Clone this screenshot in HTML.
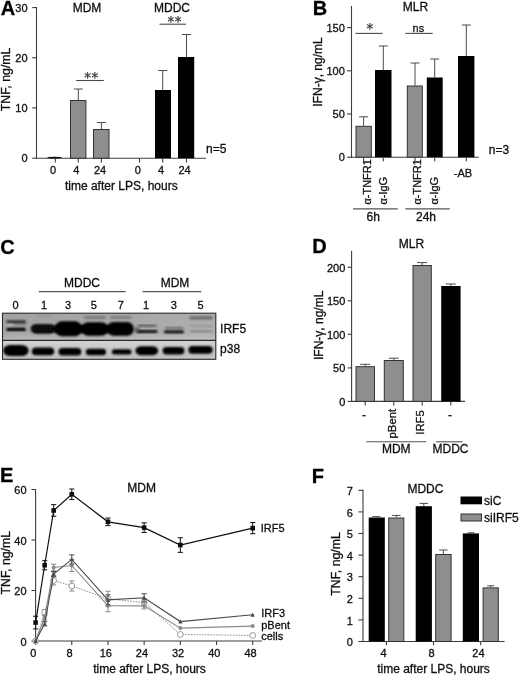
<!DOCTYPE html>
<html lang="en"><head><meta charset="utf-8"><title>Figure</title>
<style>
html,body{margin:0;padding:0;background:#fff;}
body{width:520px;height:676px;overflow:hidden;}
svg{display:block;font-family:"Liberation Sans",sans-serif;}
text{stroke:#111;stroke-width:0.3px;}
</style></head><body>
<svg width="520" height="676" viewBox="0 0 520 676">
<defs><filter id="soft" x="0" y="0" width="520" height="676" filterUnits="userSpaceOnUse"><feGaussianBlur stdDeviation="0.4"/></filter></defs>
<rect width="520" height="676" fill="#fff"/>
<g filter="url(#soft)">
<text x="8.00" y="15.00" font-size="20" text-anchor="middle" font-weight="bold" fill="#000" >A</text>
<line x1="36.50" y1="7.00" x2="36.50" y2="158.70" stroke="#3c3c3c" stroke-width="1.1" />
<line x1="36.00" y1="158.20" x2="206.00" y2="158.20" stroke="#3c3c3c" stroke-width="1.1" />
<line x1="32.20" y1="7.60" x2="36.50" y2="7.60" stroke="#3c3c3c" stroke-width="1.1" />
<text x="27.60" y="11.80" font-size="11" text-anchor="end" font-weight="normal" fill="#111" >30</text>
<line x1="32.20" y1="57.70" x2="36.50" y2="57.70" stroke="#3c3c3c" stroke-width="1.1" />
<text x="27.60" y="61.90" font-size="11" text-anchor="end" font-weight="normal" fill="#111" >20</text>
<line x1="32.20" y1="107.90" x2="36.50" y2="107.90" stroke="#3c3c3c" stroke-width="1.1" />
<text x="27.60" y="112.10" font-size="11" text-anchor="end" font-weight="normal" fill="#111" >10</text>
<line x1="32.20" y1="158.20" x2="36.50" y2="158.20" stroke="#3c3c3c" stroke-width="1.1" />
<text x="27.60" y="162.40" font-size="11" text-anchor="end" font-weight="normal" fill="#111" >0</text>
<text x="9.80" y="79.40" font-size="12.3" text-anchor="middle" font-weight="normal" fill="#111" transform="rotate(-90 9.80 79.40)" >TNF, ng/mL</text>
<text x="87.00" y="12.30" font-size="12" text-anchor="middle" font-weight="normal" fill="#111" >MDM</text>
<text x="172.00" y="12.30" font-size="12" text-anchor="middle" font-weight="normal" fill="#111" >MDDC</text>
<ellipse cx="54.6" cy="157.6" rx="7.6" ry="0.9" fill="#111"/>
<rect x="70.50" y="100.50" width="15.40" height="57.70" fill="#8e8e8e" stroke="#333" stroke-width="1"/>
<line x1="78.30" y1="89.00" x2="78.30" y2="100.00" stroke="#4a4a4a" stroke-width="1.0" />
<line x1="73.80" y1="89.00" x2="82.80" y2="89.00" stroke="#4a4a4a" stroke-width="1.0" />
<rect x="93.50" y="129.50" width="15.50" height="28.70" fill="#8e8e8e" stroke="#333" stroke-width="1"/>
<line x1="101.40" y1="122.50" x2="101.40" y2="129.00" stroke="#4a4a4a" stroke-width="1.0" />
<line x1="96.90" y1="122.50" x2="105.90" y2="122.50" stroke="#4a4a4a" stroke-width="1.0" />
<rect x="155.00" y="90.00" width="16.00" height="68.20" fill="#000"/>
<line x1="162.70" y1="70.50" x2="162.70" y2="90.00" stroke="#4a4a4a" stroke-width="1.0" />
<line x1="158.20" y1="70.50" x2="167.20" y2="70.50" stroke="#4a4a4a" stroke-width="1.0" />
<rect x="178.00" y="57.00" width="16.20" height="101.20" fill="#000"/>
<line x1="186.50" y1="34.50" x2="186.50" y2="57.00" stroke="#4a4a4a" stroke-width="1.0" />
<line x1="182.00" y1="34.50" x2="191.00" y2="34.50" stroke="#4a4a4a" stroke-width="1.0" />
<line x1="76.20" y1="80.50" x2="103.80" y2="80.50" stroke="#4a4a4a" stroke-width="1.1" />
<text x="91.40" y="82.00" font-size="13.5" text-anchor="middle" font-weight="normal" fill="#333" font-family="DejaVu Sans, sans-serif" letter-spacing="0.4" style="stroke:#333;stroke-width:0.25px">**</text>
<line x1="159.50" y1="24.20" x2="186.00" y2="24.20" stroke="#4a4a4a" stroke-width="1.1" />
<text x="174.70" y="25.50" font-size="13.5" text-anchor="middle" font-weight="normal" fill="#333" font-family="DejaVu Sans, sans-serif" letter-spacing="0.4" style="stroke:#333;stroke-width:0.25px">**</text>
<line x1="55.30" y1="158.20" x2="55.30" y2="162.50" stroke="#3c3c3c" stroke-width="1.1" />
<text x="53.00" y="174.00" font-size="11" text-anchor="middle" font-weight="normal" fill="#111" >0</text>
<line x1="78.30" y1="158.20" x2="78.30" y2="162.50" stroke="#3c3c3c" stroke-width="1.1" />
<text x="76.30" y="174.00" font-size="11" text-anchor="middle" font-weight="normal" fill="#111" >4</text>
<line x1="101.40" y1="158.20" x2="101.40" y2="162.50" stroke="#3c3c3c" stroke-width="1.1" />
<text x="100.00" y="174.00" font-size="11" text-anchor="middle" font-weight="normal" fill="#111" >24</text>
<line x1="139.50" y1="158.20" x2="139.50" y2="162.50" stroke="#3c3c3c" stroke-width="1.1" />
<text x="137.80" y="174.00" font-size="11" text-anchor="middle" font-weight="normal" fill="#111" >0</text>
<line x1="162.70" y1="158.20" x2="162.70" y2="162.50" stroke="#3c3c3c" stroke-width="1.1" />
<text x="161.00" y="174.00" font-size="11" text-anchor="middle" font-weight="normal" fill="#111" >4</text>
<line x1="186.50" y1="158.20" x2="186.50" y2="162.50" stroke="#3c3c3c" stroke-width="1.1" />
<text x="184.60" y="174.00" font-size="11" text-anchor="middle" font-weight="normal" fill="#111" >24</text>
<text x="121.30" y="190.00" font-size="12" text-anchor="middle" font-weight="normal" fill="#111" >time after LPS, hours</text>
<text x="206.00" y="152.50" font-size="12" text-anchor="start" font-weight="normal" fill="#111" >n=5</text>
<text x="319.90" y="15.00" font-size="20" text-anchor="middle" font-weight="bold" fill="#000" >B</text>
<line x1="351.50" y1="6.00" x2="351.50" y2="157.70" stroke="#3c3c3c" stroke-width="1.1" />
<line x1="351.00" y1="157.20" x2="478.70" y2="157.20" stroke="#3c3c3c" stroke-width="1.1" />
<line x1="347.00" y1="27.60" x2="351.50" y2="27.60" stroke="#3c3c3c" stroke-width="1.1" />
<text x="344.80" y="31.80" font-size="11" text-anchor="end" font-weight="normal" fill="#111" >150</text>
<line x1="347.00" y1="70.80" x2="351.50" y2="70.80" stroke="#3c3c3c" stroke-width="1.1" />
<text x="344.80" y="75.00" font-size="11" text-anchor="end" font-weight="normal" fill="#111" >100</text>
<line x1="347.00" y1="114.00" x2="351.50" y2="114.00" stroke="#3c3c3c" stroke-width="1.1" />
<text x="344.80" y="118.20" font-size="11" text-anchor="end" font-weight="normal" fill="#111" >50</text>
<line x1="347.00" y1="157.20" x2="351.50" y2="157.20" stroke="#3c3c3c" stroke-width="1.1" />
<text x="344.80" y="161.40" font-size="11" text-anchor="end" font-weight="normal" fill="#111" >0</text>
<text x="322.00" y="72.00" font-size="12" text-anchor="middle" font-weight="normal" fill="#111" transform="rotate(-90 322.00 72.00)" >IFN-γ, ng/mL</text>
<text x="415.50" y="10.60" font-size="12" text-anchor="middle" font-weight="normal" fill="#111" >MLR</text>
<rect x="356.00" y="126.30" width="15.30" height="30.90" fill="#8e8e8e" stroke="#333" stroke-width="1"/>
<line x1="363.60" y1="116.80" x2="363.60" y2="125.80" stroke="#4a4a4a" stroke-width="1.0" />
<line x1="359.10" y1="116.80" x2="368.10" y2="116.80" stroke="#4a4a4a" stroke-width="1.0" />
<rect x="375.00" y="70.00" width="16.50" height="87.20" fill="#000"/>
<line x1="383.30" y1="46.00" x2="383.30" y2="70.00" stroke="#4a4a4a" stroke-width="1.0" />
<line x1="378.80" y1="46.00" x2="387.80" y2="46.00" stroke="#4a4a4a" stroke-width="1.0" />
<rect x="407.30" y="86.00" width="15.00" height="71.20" fill="#8e8e8e" stroke="#333" stroke-width="1"/>
<line x1="415.00" y1="63.00" x2="415.00" y2="85.50" stroke="#4a4a4a" stroke-width="1.0" />
<line x1="410.50" y1="63.00" x2="419.50" y2="63.00" stroke="#4a4a4a" stroke-width="1.0" />
<rect x="426.80" y="77.50" width="15.90" height="79.70" fill="#000"/>
<line x1="434.70" y1="59.00" x2="434.70" y2="77.50" stroke="#4a4a4a" stroke-width="1.0" />
<line x1="430.20" y1="59.00" x2="439.20" y2="59.00" stroke="#4a4a4a" stroke-width="1.0" />
<rect x="458.00" y="56.00" width="16.40" height="101.20" fill="#000"/>
<line x1="466.30" y1="25.00" x2="466.30" y2="56.00" stroke="#4a4a4a" stroke-width="1.0" />
<line x1="461.80" y1="25.00" x2="470.80" y2="25.00" stroke="#4a4a4a" stroke-width="1.0" />
<line x1="355.50" y1="33.40" x2="382.50" y2="33.40" stroke="#4a4a4a" stroke-width="1.1" />
<text x="370.20" y="32.60" font-size="13.5" text-anchor="middle" font-weight="normal" fill="#333" font-family="DejaVu Sans, sans-serif" letter-spacing="0.4" style="stroke:#333;stroke-width:0.25px">*</text>
<line x1="405.40" y1="33.40" x2="432.70" y2="33.40" stroke="#4a4a4a" stroke-width="1.1" />
<text x="418.40" y="31.60" font-size="11" text-anchor="middle" font-weight="normal" fill="#222" >ns</text>
<line x1="363.60" y1="157.20" x2="363.60" y2="161.30" stroke="#3c3c3c" stroke-width="1.1" />
<line x1="383.30" y1="157.20" x2="383.30" y2="161.30" stroke="#3c3c3c" stroke-width="1.1" />
<line x1="415.00" y1="157.20" x2="415.00" y2="161.30" stroke="#3c3c3c" stroke-width="1.1" />
<line x1="434.70" y1="157.20" x2="434.70" y2="161.30" stroke="#3c3c3c" stroke-width="1.1" />
<line x1="466.30" y1="157.20" x2="466.30" y2="161.30" stroke="#3c3c3c" stroke-width="1.1" />
<text x="371.30" y="204.60" font-size="11" text-anchor="start" font-weight="normal" fill="#111" transform="rotate(-90 371.30 204.60)" >α-TNFR1</text>
<text x="387.30" y="204.60" font-size="11" text-anchor="start" font-weight="normal" fill="#111" transform="rotate(-90 387.30 204.60)" >α-IgG</text>
<text x="421.30" y="204.60" font-size="11" text-anchor="start" font-weight="normal" fill="#111" transform="rotate(-90 421.30 204.60)" >α-TNFR1</text>
<text x="438.30" y="204.60" font-size="11" text-anchor="start" font-weight="normal" fill="#111" transform="rotate(-90 438.30 204.60)" >α-IgG</text>
<text x="463.00" y="177.00" font-size="11" text-anchor="middle" font-weight="normal" fill="#111" >-AB</text>
<line x1="353.00" y1="208.80" x2="397.70" y2="208.80" stroke="#555" stroke-width="1.2" />
<line x1="405.40" y1="208.80" x2="449.80" y2="208.80" stroke="#555" stroke-width="1.2" />
<text x="373.20" y="221.30" font-size="12" text-anchor="middle" font-weight="normal" fill="#111" >6h</text>
<text x="426.00" y="221.30" font-size="12" text-anchor="middle" font-weight="normal" fill="#111" >24h</text>
<text x="488.80" y="154.20" font-size="12" text-anchor="start" font-weight="normal" fill="#111" >n=3</text>
<text x="7.50" y="253.90" font-size="20" text-anchor="middle" font-weight="bold" fill="#000" >C</text>
<text x="82.00" y="286.80" font-size="12" text-anchor="middle" font-weight="normal" fill="#111" >MDDC</text>
<text x="175.00" y="286.80" font-size="12" text-anchor="middle" font-weight="normal" fill="#111" >MDM</text>
<line x1="38.80" y1="291.60" x2="125.60" y2="291.60" stroke="#555" stroke-width="1.1" />
<line x1="142.50" y1="291.60" x2="201.30" y2="291.60" stroke="#555" stroke-width="1.1" />
<text x="15.50" y="308.50" font-size="11" text-anchor="middle" font-weight="normal" fill="#111" >0</text>
<text x="44.00" y="308.50" font-size="11" text-anchor="middle" font-weight="normal" fill="#111" >1</text>
<text x="68.00" y="308.50" font-size="11" text-anchor="middle" font-weight="normal" fill="#111" >3</text>
<text x="93.80" y="308.50" font-size="11" text-anchor="middle" font-weight="normal" fill="#111" >5</text>
<text x="120.80" y="308.50" font-size="11" text-anchor="middle" font-weight="normal" fill="#111" >7</text>
<text x="146.00" y="308.50" font-size="11" text-anchor="middle" font-weight="normal" fill="#111" >1</text>
<text x="173.80" y="308.50" font-size="11" text-anchor="middle" font-weight="normal" fill="#111" >3</text>
<text x="200.60" y="308.50" font-size="11" text-anchor="middle" font-weight="normal" fill="#111" >5</text>
<text x="220.10" y="333.30" font-size="12" text-anchor="start" font-weight="normal" fill="#111" >IRF5</text>
<text x="220.10" y="352.80" font-size="12" text-anchor="start" font-weight="normal" fill="#111" >p38</text>
<g id="blot"><defs>
<filter id="bl" x="-10%" y="-30%" width="120%" height="160%"><feGaussianBlur stdDeviation="1.05"/></filter>
<filter id="bl2" x="-10%" y="-30%" width="120%" height="160%"><feGaussianBlur stdDeviation="1.3"/></filter>
<linearGradient id="bgU" x1="0" y1="0" x2="1" y2="0"><stop offset="0" stop-color="#a2a2a2"/><stop offset="0.6" stop-color="#a8a8a8"/><stop offset="1" stop-color="#aeaeae"/></linearGradient>
<linearGradient id="bgUv" x1="0" y1="0" x2="0" y2="1"><stop offset="0" stop-color="#fff" stop-opacity="0"/><stop offset="0.7" stop-color="#fff" stop-opacity="0.02"/><stop offset="1" stop-color="#fff" stop-opacity="0.22"/></linearGradient>
<linearGradient id="bgL" x1="0" y1="0" x2="0" y2="1"><stop offset="0" stop-color="#d4d4d4"/><stop offset="0.5" stop-color="#c6c6c6"/><stop offset="1" stop-color="#c0c0c0"/></linearGradient>
<clipPath id="cU"><rect x="2.5" y="313.2" width="213.3" height="27.100000000000023"/></clipPath>
<clipPath id="cL"><rect x="2.5" y="340.3" width="213.3" height="19.0"/></clipPath>
</defs>
<rect x="2.5" y="313.2" width="213.3" height="27.100000000000023" fill="url(#bgU)"/>
<rect x="2.5" y="313.2" width="213.3" height="27.100000000000023" fill="url(#bgUv)"/>
<rect x="2.5" y="340.3" width="213.3" height="19.0" fill="url(#bgL)"/>
<g clip-path="url(#cU)">
<rect x="6.2" y="320.5" width="19.8" height="2.5" rx="1.2" ry="1.2" fill="#101010" opacity="0.92" filter="url(#bl)"/>
<rect x="13.0" y="323.4" width="13.0" height="1.8" rx="0.9" ry="0.9" fill="#222" opacity="0.4" filter="url(#bl)"/>
<rect x="6.2" y="327.8" width="19.8" height="3.2" rx="1.6" ry="1.6" fill="#050505" opacity="1" filter="url(#bl)"/>
<ellipse cx="10.5" cy="325.2" rx="3" ry="1.4" fill="#c8c8c8" opacity="0.4" filter="url(#bl)"/>
<rect x="31.5" y="324.2" width="23.5" height="9.2" rx="4.5" ry="4.6" fill="#050505" opacity="1" filter="url(#bl)"/>
<rect x="30.5" y="325.5" width="25.5" height="6.7" rx="3.3" ry="3.3" fill="#111" opacity="0.6" filter="url(#bl2)"/>
<rect x="55.0" y="321.3" width="27.0" height="15.0" rx="7.0" ry="7.5" fill="#050505" opacity="1" filter="url(#bl)"/>
<rect x="81.5" y="322.3" width="26.5" height="13.5" rx="6.5" ry="6.8" fill="#050505" opacity="1" filter="url(#bl)"/>
<rect x="84.0" y="316.0" width="22.0" height="2.8" rx="1.4" ry="1.4" fill="#666" opacity="0.75" filter="url(#bl)"/>
<rect x="107.0" y="322.0" width="26.8" height="13.8" rx="6.5" ry="6.9" fill="#050505" opacity="1" filter="url(#bl)"/>
<rect x="110.0" y="316.0" width="21.5" height="2.8" rx="1.4" ry="1.4" fill="#666" opacity="0.7" filter="url(#bl)"/>
<rect x="53.0" y="325.0" width="59.0" height="8.0" rx="4.0" ry="4.0" fill="#000" opacity="1" filter="url(#bl)"/>
<rect x="36.0" y="315.3" width="16.0" height="1.5" rx="0.8" ry="0.8" fill="#777" opacity="0.4" filter="url(#bl)"/>
<rect x="138.0" y="324.7" width="18.5" height="1.8" rx="0.9" ry="0.9" fill="#1c1c1c" opacity="0.7" filter="url(#bl)"/>
<rect x="137.0" y="330.0" width="20.5" height="3.0" rx="1.5" ry="1.5" fill="#080808" opacity="1" filter="url(#bl)"/>
<rect x="134.0" y="327.0" width="6.0" height="6.0" rx="3.0" ry="3.0" fill="#333" opacity="0.5" filter="url(#bl2)"/>
<rect x="165.0" y="327.3" width="18.5" height="1.7" rx="0.8" ry="0.8" fill="#2a2a2a" opacity="0.6" filter="url(#bl)"/>
<rect x="164.0" y="330.5" width="20.0" height="2.8" rx="1.4" ry="1.4" fill="#060606" opacity="1" filter="url(#bl)"/>
<rect x="189.5" y="316.2" width="23.3" height="3.4" rx="1.7" ry="1.7" fill="#5c5c5c" opacity="0.85" filter="url(#bl)"/>
<rect x="190.0" y="325.3" width="22.5" height="1.5" rx="0.8" ry="0.8" fill="#666" opacity="0.4" filter="url(#bl)"/>
<rect x="190.0" y="330.5" width="22.5" height="1.7" rx="0.8" ry="0.8" fill="#555" opacity="0.55" filter="url(#bl)"/>
</g>
<g clip-path="url(#cL)">
<rect x="3.2" y="345.0" width="25.4" height="11.0" rx="7.0" ry="5.5" fill="#050505" opacity="1" filter="url(#bl)"/>
<rect x="31.8" y="347.4" width="22.4" height="7.9" rx="4.0" ry="4.0" fill="#050505" opacity="1" filter="url(#bl)"/>
<rect x="58.5" y="348.0" width="22.8" height="7.6" rx="3.8" ry="3.8" fill="#050505" opacity="1" filter="url(#bl)"/>
<rect x="85.8" y="348.8" width="20.2" height="6.4" rx="3.2" ry="3.2" fill="#050505" opacity="1" filter="url(#bl)"/>
<rect x="111.8" y="349.2" width="19.8" height="5.3" rx="2.7" ry="2.7" fill="#050505" opacity="1" filter="url(#bl)"/>
<rect x="135.4" y="346.3" width="22.8" height="9.0" rx="6.0" ry="4.5" fill="#050505" opacity="1" filter="url(#bl)"/>
<rect x="162.6" y="347.1" width="21.8" height="7.4" rx="3.7" ry="3.7" fill="#050505" opacity="1" filter="url(#bl)"/>
<rect x="188.4" y="346.1" width="24.2" height="7.6" rx="3.8" ry="3.8" fill="#050505" opacity="1" filter="url(#bl)"/>
</g>
<rect x="2.5" y="313.2" width="213.3" height="46.10000000000002" fill="none" stroke="#2a2a2a" stroke-width="1.1"/>
<line x1="2.5" y1="340.3" x2="215.8" y2="340.3" stroke="#2a2a2a" stroke-width="1.2"/></g>
<text x="319.40" y="253.40" font-size="20" text-anchor="middle" font-weight="bold" fill="#000" >D</text>
<line x1="351.60" y1="250.80" x2="351.60" y2="401.90" stroke="#3c3c3c" stroke-width="1.1" />
<line x1="351.10" y1="401.40" x2="465.00" y2="401.40" stroke="#3c3c3c" stroke-width="1.1" />
<line x1="347.70" y1="267.30" x2="351.60" y2="267.30" stroke="#3c3c3c" stroke-width="1.1" />
<text x="345.30" y="271.50" font-size="11" text-anchor="end" font-weight="normal" fill="#111" >200</text>
<line x1="347.70" y1="300.80" x2="351.60" y2="300.80" stroke="#3c3c3c" stroke-width="1.1" />
<text x="345.30" y="305.00" font-size="11" text-anchor="end" font-weight="normal" fill="#111" >150</text>
<line x1="347.70" y1="334.30" x2="351.60" y2="334.30" stroke="#3c3c3c" stroke-width="1.1" />
<text x="345.30" y="338.50" font-size="11" text-anchor="end" font-weight="normal" fill="#111" >100</text>
<line x1="347.70" y1="367.90" x2="351.60" y2="367.90" stroke="#3c3c3c" stroke-width="1.1" />
<text x="345.30" y="372.10" font-size="11" text-anchor="end" font-weight="normal" fill="#111" >50</text>
<line x1="347.70" y1="401.40" x2="351.60" y2="401.40" stroke="#3c3c3c" stroke-width="1.1" />
<text x="345.30" y="405.60" font-size="11" text-anchor="end" font-weight="normal" fill="#111" >0</text>
<text x="323.00" y="325.30" font-size="12" text-anchor="middle" font-weight="normal" fill="#111" transform="rotate(-90 323.00 325.30)" >IFN-γ, ng/mL</text>
<text x="411.50" y="247.60" font-size="12" text-anchor="middle" font-weight="normal" fill="#111" >MLR</text>
<rect x="356.00" y="366.70" width="18.50" height="34.70" fill="#8e8e8e" stroke="#333" stroke-width="1"/>
<line x1="365.20" y1="364.30" x2="365.20" y2="366.20" stroke="#4a4a4a" stroke-width="1.0" />
<line x1="360.20" y1="364.30" x2="370.20" y2="364.30" stroke="#4a4a4a" stroke-width="1.0" />
<rect x="384.30" y="360.50" width="19.00" height="40.90" fill="#8e8e8e" stroke="#333" stroke-width="1"/>
<line x1="393.80" y1="358.20" x2="393.80" y2="360.00" stroke="#4a4a4a" stroke-width="1.0" />
<line x1="388.80" y1="358.20" x2="398.80" y2="358.20" stroke="#4a4a4a" stroke-width="1.0" />
<rect x="413.00" y="265.50" width="18.30" height="135.90" fill="#8e8e8e" stroke="#333" stroke-width="1"/>
<line x1="422.20" y1="262.60" x2="422.20" y2="265.00" stroke="#4a4a4a" stroke-width="1.0" />
<line x1="417.20" y1="262.60" x2="427.20" y2="262.60" stroke="#4a4a4a" stroke-width="1.0" />
<rect x="441.20" y="286.00" width="19.40" height="115.40" fill="#000"/>
<line x1="450.80" y1="284.00" x2="450.80" y2="286.00" stroke="#4a4a4a" stroke-width="1.0" />
<line x1="445.80" y1="284.00" x2="455.80" y2="284.00" stroke="#4a4a4a" stroke-width="1.0" />
<line x1="365.20" y1="401.40" x2="365.20" y2="405.50" stroke="#3c3c3c" stroke-width="1.1" />
<line x1="393.80" y1="401.40" x2="393.80" y2="405.50" stroke="#3c3c3c" stroke-width="1.1" />
<line x1="422.20" y1="401.40" x2="422.20" y2="405.50" stroke="#3c3c3c" stroke-width="1.1" />
<line x1="450.80" y1="401.40" x2="450.80" y2="405.50" stroke="#3c3c3c" stroke-width="1.1" />
<text x="364.00" y="419.00" font-size="12" text-anchor="middle" font-weight="normal" fill="#111" >-</text>
<text x="450.00" y="419.00" font-size="12" text-anchor="middle" font-weight="normal" fill="#111" >-</text>
<text x="396.40" y="408.90" font-size="11.3" text-anchor="end" font-weight="normal" fill="#111" transform="rotate(-90 396.40 408.90)" >pBent</text>
<text x="424.50" y="410.20" font-size="11.3" text-anchor="end" font-weight="normal" fill="#111" transform="rotate(-90 424.50 410.20)" >IRF5</text>
<line x1="366.20" y1="441.80" x2="426.20" y2="441.80" stroke="#555" stroke-width="1.1" />
<line x1="436.20" y1="441.80" x2="462.50" y2="441.80" stroke="#555" stroke-width="1.1" />
<text x="396.30" y="453.40" font-size="12" text-anchor="middle" font-weight="normal" fill="#111" >MDM</text>
<text x="450.50" y="453.40" font-size="12" text-anchor="middle" font-weight="normal" fill="#111" >MDDC</text>
<text x="6.60" y="482.00" font-size="20" text-anchor="middle" font-weight="bold" fill="#000" >E</text>
<line x1="35.60" y1="489.00" x2="35.60" y2="641.50" stroke="#3c3c3c" stroke-width="1.1" />
<line x1="35.10" y1="641.00" x2="262.00" y2="641.00" stroke="#3c3c3c" stroke-width="1.1" />
<line x1="31.50" y1="641.00" x2="35.60" y2="641.00" stroke="#3c3c3c" stroke-width="1.1" />
<text x="26.60" y="645.50" font-size="11" text-anchor="end" font-weight="normal" fill="#111" >0</text>
<line x1="31.50" y1="590.50" x2="35.60" y2="590.50" stroke="#3c3c3c" stroke-width="1.1" />
<text x="26.60" y="595.00" font-size="11" text-anchor="end" font-weight="normal" fill="#111" >20</text>
<line x1="31.50" y1="540.00" x2="35.60" y2="540.00" stroke="#3c3c3c" stroke-width="1.1" />
<text x="26.60" y="544.50" font-size="11" text-anchor="end" font-weight="normal" fill="#111" >40</text>
<line x1="31.50" y1="489.50" x2="35.60" y2="489.50" stroke="#3c3c3c" stroke-width="1.1" />
<text x="26.60" y="494.00" font-size="11" text-anchor="end" font-weight="normal" fill="#111" >60</text>
<line x1="35.60" y1="641.00" x2="35.60" y2="645.00" stroke="#3c3c3c" stroke-width="1.1" />
<text x="33.40" y="657.20" font-size="11" text-anchor="middle" font-weight="normal" fill="#111" >0</text>
<line x1="71.78" y1="641.00" x2="71.78" y2="645.00" stroke="#3c3c3c" stroke-width="1.1" />
<text x="69.58" y="657.20" font-size="11" text-anchor="middle" font-weight="normal" fill="#111" >8</text>
<line x1="107.97" y1="641.00" x2="107.97" y2="645.00" stroke="#3c3c3c" stroke-width="1.1" />
<text x="105.77" y="657.20" font-size="11" text-anchor="middle" font-weight="normal" fill="#111" >16</text>
<line x1="144.15" y1="641.00" x2="144.15" y2="645.00" stroke="#3c3c3c" stroke-width="1.1" />
<text x="141.95" y="657.20" font-size="11" text-anchor="middle" font-weight="normal" fill="#111" >24</text>
<line x1="180.33" y1="641.00" x2="180.33" y2="645.00" stroke="#3c3c3c" stroke-width="1.1" />
<text x="178.13" y="657.20" font-size="11" text-anchor="middle" font-weight="normal" fill="#111" >32</text>
<line x1="216.52" y1="641.00" x2="216.52" y2="645.00" stroke="#3c3c3c" stroke-width="1.1" />
<text x="214.32" y="657.20" font-size="11" text-anchor="middle" font-weight="normal" fill="#111" >40</text>
<line x1="252.70" y1="641.00" x2="252.70" y2="645.00" stroke="#3c3c3c" stroke-width="1.1" />
<text x="250.50" y="657.20" font-size="11" text-anchor="middle" font-weight="normal" fill="#111" >48</text>
<text x="10.50" y="562.70" font-size="12.3" text-anchor="middle" font-weight="normal" fill="#111" transform="rotate(-90 10.50 562.70)" >TNF, ng/mL</text>
<text x="141.70" y="492.30" font-size="12" text-anchor="middle" font-weight="normal" fill="#111" >MDM</text>
<text x="149.50" y="672.60" font-size="12" text-anchor="middle" font-weight="normal" fill="#111" >time after LPS, hours</text>
<polyline points="35.60,641.00 44.65,612.47 53.69,580.40 71.78,585.96 107.97,598.83 144.15,602.62 180.33,634.43 252.70,635.45" fill="none" stroke="#8a8a8a" stroke-width="0.9" stroke-dasharray="1.7 1.1"/>
<circle cx="35.60" cy="641.00" r="2.9" fill="#fff" stroke="#8a8a8a" stroke-width="0.9"/>
<line x1="44.65" y1="609.44" x2="44.65" y2="615.50" stroke="#8a8a8a" stroke-width="1" />
<line x1="42.05" y1="609.44" x2="47.25" y2="609.44" stroke="#8a8a8a" stroke-width="1" />
<line x1="42.05" y1="615.50" x2="47.25" y2="615.50" stroke="#8a8a8a" stroke-width="1" />
<circle cx="44.65" cy="612.47" r="2.9" fill="#fff" stroke="#8a8a8a" stroke-width="0.9"/>
<line x1="53.69" y1="575.86" x2="53.69" y2="584.95" stroke="#8a8a8a" stroke-width="1" />
<line x1="51.09" y1="575.86" x2="56.29" y2="575.86" stroke="#8a8a8a" stroke-width="1" />
<line x1="51.09" y1="584.95" x2="56.29" y2="584.95" stroke="#8a8a8a" stroke-width="1" />
<circle cx="53.69" cy="580.40" r="2.9" fill="#fff" stroke="#8a8a8a" stroke-width="0.9"/>
<line x1="71.78" y1="580.90" x2="71.78" y2="591.00" stroke="#8a8a8a" stroke-width="1" />
<line x1="69.18" y1="580.90" x2="74.38" y2="580.90" stroke="#8a8a8a" stroke-width="1" />
<line x1="69.18" y1="591.00" x2="74.38" y2="591.00" stroke="#8a8a8a" stroke-width="1" />
<circle cx="71.78" cy="585.96" r="2.9" fill="#fff" stroke="#8a8a8a" stroke-width="0.9"/>
<line x1="107.97" y1="591.26" x2="107.97" y2="606.41" stroke="#8a8a8a" stroke-width="1" />
<line x1="105.37" y1="591.26" x2="110.57" y2="591.26" stroke="#8a8a8a" stroke-width="1" />
<line x1="105.37" y1="606.41" x2="110.57" y2="606.41" stroke="#8a8a8a" stroke-width="1" />
<circle cx="107.97" cy="598.83" r="2.9" fill="#fff" stroke="#8a8a8a" stroke-width="0.9"/>
<line x1="144.15" y1="598.83" x2="144.15" y2="606.41" stroke="#8a8a8a" stroke-width="1" />
<line x1="141.55" y1="598.83" x2="146.75" y2="598.83" stroke="#8a8a8a" stroke-width="1" />
<line x1="141.55" y1="606.41" x2="146.75" y2="606.41" stroke="#8a8a8a" stroke-width="1" />
<circle cx="144.15" cy="602.62" r="2.9" fill="#fff" stroke="#8a8a8a" stroke-width="0.9"/>
<circle cx="180.33" cy="634.43" r="2.9" fill="#fff" stroke="#8a8a8a" stroke-width="0.9"/>
<circle cx="252.70" cy="635.45" r="2.9" fill="#fff" stroke="#8a8a8a" stroke-width="0.9"/>
<polyline points="35.60,641.00 44.65,617.52 53.69,567.52 71.78,565.50 107.97,605.65 144.15,605.90 180.33,628.12 252.70,626.10" fill="none" stroke="#8a8a8a" stroke-width="1.1"/>
<circle cx="35.60" cy="641.00" r="2.0" fill="#8a8a8a"/>
<line x1="44.65" y1="614.99" x2="44.65" y2="620.04" stroke="#8a8a8a" stroke-width="1" />
<line x1="42.05" y1="614.99" x2="47.25" y2="614.99" stroke="#8a8a8a" stroke-width="1" />
<line x1="42.05" y1="620.04" x2="47.25" y2="620.04" stroke="#8a8a8a" stroke-width="1" />
<circle cx="44.65" cy="617.52" r="2.0" fill="#8a8a8a"/>
<line x1="53.69" y1="564.24" x2="53.69" y2="570.81" stroke="#8a8a8a" stroke-width="1" />
<line x1="51.09" y1="564.24" x2="56.29" y2="564.24" stroke="#8a8a8a" stroke-width="1" />
<line x1="51.09" y1="570.81" x2="56.29" y2="570.81" stroke="#8a8a8a" stroke-width="1" />
<circle cx="53.69" cy="567.52" r="2.0" fill="#8a8a8a"/>
<line x1="71.78" y1="559.44" x2="71.78" y2="571.56" stroke="#8a8a8a" stroke-width="1" />
<line x1="69.18" y1="559.44" x2="74.38" y2="559.44" stroke="#8a8a8a" stroke-width="1" />
<line x1="69.18" y1="571.56" x2="74.38" y2="571.56" stroke="#8a8a8a" stroke-width="1" />
<circle cx="71.78" cy="565.50" r="2.0" fill="#8a8a8a"/>
<line x1="107.97" y1="599.59" x2="107.97" y2="611.71" stroke="#8a8a8a" stroke-width="1" />
<line x1="105.37" y1="599.59" x2="110.57" y2="599.59" stroke="#8a8a8a" stroke-width="1" />
<line x1="105.37" y1="611.71" x2="110.57" y2="611.71" stroke="#8a8a8a" stroke-width="1" />
<circle cx="107.97" cy="605.65" r="2.0" fill="#8a8a8a"/>
<line x1="144.15" y1="602.87" x2="144.15" y2="608.93" stroke="#8a8a8a" stroke-width="1" />
<line x1="141.55" y1="602.87" x2="146.75" y2="602.87" stroke="#8a8a8a" stroke-width="1" />
<line x1="141.55" y1="608.93" x2="146.75" y2="608.93" stroke="#8a8a8a" stroke-width="1" />
<circle cx="144.15" cy="605.90" r="2.0" fill="#8a8a8a"/>
<circle cx="180.33" cy="628.12" r="2.0" fill="#8a8a8a"/>
<circle cx="252.70" cy="626.10" r="2.0" fill="#8a8a8a"/>
<polyline points="35.60,641.00 44.65,623.83 53.69,574.09 71.78,559.44 107.97,599.84 144.15,597.82 180.33,621.56 252.70,614.74" fill="none" stroke="#4a4a4a" stroke-width="1.1"/>
<path d="M33.50,642.90 L37.70,642.90 L35.60,638.70 Z" fill="#4a4a4a"/>
<line x1="44.65" y1="621.81" x2="44.65" y2="625.85" stroke="#4a4a4a" stroke-width="1" />
<line x1="42.05" y1="621.81" x2="47.25" y2="621.81" stroke="#4a4a4a" stroke-width="1" />
<line x1="42.05" y1="625.85" x2="47.25" y2="625.85" stroke="#4a4a4a" stroke-width="1" />
<path d="M42.55,625.73 L46.75,625.73 L44.65,621.53 Z" fill="#4a4a4a"/>
<line x1="53.69" y1="571.56" x2="53.69" y2="576.61" stroke="#4a4a4a" stroke-width="1" />
<line x1="51.09" y1="571.56" x2="56.29" y2="571.56" stroke="#4a4a4a" stroke-width="1" />
<line x1="51.09" y1="576.61" x2="56.29" y2="576.61" stroke="#4a4a4a" stroke-width="1" />
<path d="M51.59,575.99 L55.79,575.99 L53.69,571.79 Z" fill="#4a4a4a"/>
<line x1="71.78" y1="554.90" x2="71.78" y2="563.99" stroke="#4a4a4a" stroke-width="1" />
<line x1="69.18" y1="554.90" x2="74.38" y2="554.90" stroke="#4a4a4a" stroke-width="1" />
<line x1="69.18" y1="563.99" x2="74.38" y2="563.99" stroke="#4a4a4a" stroke-width="1" />
<path d="M69.68,561.34 L73.88,561.34 L71.78,557.14 Z" fill="#4a4a4a"/>
<line x1="107.97" y1="594.79" x2="107.97" y2="604.89" stroke="#4a4a4a" stroke-width="1" />
<line x1="105.37" y1="594.79" x2="110.57" y2="594.79" stroke="#4a4a4a" stroke-width="1" />
<line x1="105.37" y1="604.89" x2="110.57" y2="604.89" stroke="#4a4a4a" stroke-width="1" />
<path d="M105.87,601.74 L110.07,601.74 L107.97,597.54 Z" fill="#4a4a4a"/>
<line x1="144.15" y1="593.78" x2="144.15" y2="601.86" stroke="#4a4a4a" stroke-width="1" />
<line x1="141.55" y1="593.78" x2="146.75" y2="593.78" stroke="#4a4a4a" stroke-width="1" />
<line x1="141.55" y1="601.86" x2="146.75" y2="601.86" stroke="#4a4a4a" stroke-width="1" />
<path d="M142.05,599.72 L146.25,599.72 L144.15,595.52 Z" fill="#4a4a4a"/>
<path d="M178.23,623.46 L182.43,623.46 L180.33,619.26 Z" fill="#4a4a4a"/>
<path d="M250.60,616.64 L254.80,616.64 L252.70,612.44 Z" fill="#4a4a4a"/>
<polyline points="35.60,622.57 44.65,565.25 53.69,510.46 71.78,494.30 107.97,521.82 144.15,527.63 180.33,545.05 252.70,528.13" fill="none" stroke="#111" stroke-width="1.2"/>
<line x1="35.60" y1="616.25" x2="35.60" y2="628.88" stroke="#111" stroke-width="1" />
<line x1="33.00" y1="616.25" x2="38.20" y2="616.25" stroke="#111" stroke-width="1" />
<line x1="33.00" y1="628.88" x2="38.20" y2="628.88" stroke="#111" stroke-width="1" />
<rect x="33.30" y="620.27" width="4.6" height="4.6" fill="#111"/>
<line x1="44.65" y1="560.71" x2="44.65" y2="569.79" stroke="#111" stroke-width="1" />
<line x1="42.05" y1="560.71" x2="47.25" y2="560.71" stroke="#111" stroke-width="1" />
<line x1="42.05" y1="569.79" x2="47.25" y2="569.79" stroke="#111" stroke-width="1" />
<rect x="42.35" y="562.95" width="4.6" height="4.6" fill="#111"/>
<line x1="53.69" y1="504.65" x2="53.69" y2="516.26" stroke="#111" stroke-width="1" />
<line x1="51.09" y1="504.65" x2="56.29" y2="504.65" stroke="#111" stroke-width="1" />
<line x1="51.09" y1="516.26" x2="56.29" y2="516.26" stroke="#111" stroke-width="1" />
<rect x="51.39" y="508.16" width="4.6" height="4.6" fill="#111"/>
<line x1="71.78" y1="489.00" x2="71.78" y2="499.60" stroke="#111" stroke-width="1" />
<line x1="69.18" y1="489.00" x2="74.38" y2="489.00" stroke="#111" stroke-width="1" />
<line x1="69.18" y1="499.60" x2="74.38" y2="499.60" stroke="#111" stroke-width="1" />
<rect x="69.48" y="492.00" width="4.6" height="4.6" fill="#111"/>
<line x1="107.97" y1="518.03" x2="107.97" y2="525.61" stroke="#111" stroke-width="1" />
<line x1="105.37" y1="518.03" x2="110.57" y2="518.03" stroke="#111" stroke-width="1" />
<line x1="105.37" y1="525.61" x2="110.57" y2="525.61" stroke="#111" stroke-width="1" />
<rect x="105.67" y="519.52" width="4.6" height="4.6" fill="#111"/>
<line x1="144.15" y1="522.83" x2="144.15" y2="532.42" stroke="#111" stroke-width="1" />
<line x1="141.55" y1="522.83" x2="146.75" y2="522.83" stroke="#111" stroke-width="1" />
<line x1="141.55" y1="532.42" x2="146.75" y2="532.42" stroke="#111" stroke-width="1" />
<rect x="141.85" y="525.33" width="4.6" height="4.6" fill="#111"/>
<line x1="180.33" y1="537.73" x2="180.33" y2="552.37" stroke="#111" stroke-width="1" />
<line x1="177.73" y1="537.73" x2="182.93" y2="537.73" stroke="#111" stroke-width="1" />
<line x1="177.73" y1="552.37" x2="182.93" y2="552.37" stroke="#111" stroke-width="1" />
<rect x="178.03" y="542.75" width="4.6" height="4.6" fill="#111"/>
<line x1="252.70" y1="522.58" x2="252.70" y2="533.69" stroke="#111" stroke-width="1" />
<line x1="250.10" y1="522.58" x2="255.30" y2="522.58" stroke="#111" stroke-width="1" />
<line x1="250.10" y1="533.69" x2="255.30" y2="533.69" stroke="#111" stroke-width="1" />
<rect x="250.40" y="525.83" width="4.6" height="4.6" fill="#111"/>
<text x="260.80" y="532.20" font-size="11" text-anchor="start" font-weight="normal" fill="#111" >IRF5</text>
<text x="261.20" y="616.90" font-size="11" text-anchor="start" font-weight="normal" fill="#111" >IRF3</text>
<text x="261.20" y="629.00" font-size="11" text-anchor="start" font-weight="normal" fill="#111" >pBent</text>
<text x="261.20" y="639.60" font-size="11" text-anchor="start" font-weight="normal" fill="#111" >cells</text>
<text x="317.90" y="482.60" font-size="20" text-anchor="middle" font-weight="bold" fill="#000" >F</text>
<line x1="363.00" y1="489.80" x2="363.00" y2="642.00" stroke="#3c3c3c" stroke-width="1.1" />
<line x1="362.50" y1="641.50" x2="504.60" y2="641.50" stroke="#3c3c3c" stroke-width="1.1" />
<line x1="358.40" y1="641.50" x2="363.00" y2="641.50" stroke="#3c3c3c" stroke-width="1.1" />
<text x="352.80" y="646.10" font-size="11" text-anchor="end" font-weight="normal" fill="#111" >0</text>
<line x1="358.40" y1="619.90" x2="363.00" y2="619.90" stroke="#3c3c3c" stroke-width="1.1" />
<text x="352.80" y="624.50" font-size="11" text-anchor="end" font-weight="normal" fill="#111" >1</text>
<line x1="358.40" y1="598.30" x2="363.00" y2="598.30" stroke="#3c3c3c" stroke-width="1.1" />
<text x="352.80" y="602.90" font-size="11" text-anchor="end" font-weight="normal" fill="#111" >2</text>
<line x1="358.40" y1="576.70" x2="363.00" y2="576.70" stroke="#3c3c3c" stroke-width="1.1" />
<text x="352.80" y="581.30" font-size="11" text-anchor="end" font-weight="normal" fill="#111" >3</text>
<line x1="358.40" y1="555.10" x2="363.00" y2="555.10" stroke="#3c3c3c" stroke-width="1.1" />
<text x="352.80" y="559.70" font-size="11" text-anchor="end" font-weight="normal" fill="#111" >4</text>
<line x1="358.40" y1="533.50" x2="363.00" y2="533.50" stroke="#3c3c3c" stroke-width="1.1" />
<text x="352.80" y="538.10" font-size="11" text-anchor="end" font-weight="normal" fill="#111" >5</text>
<line x1="358.40" y1="511.90" x2="363.00" y2="511.90" stroke="#3c3c3c" stroke-width="1.1" />
<text x="352.80" y="516.50" font-size="11" text-anchor="end" font-weight="normal" fill="#111" >6</text>
<line x1="358.40" y1="490.30" x2="363.00" y2="490.30" stroke="#3c3c3c" stroke-width="1.1" />
<text x="352.80" y="494.90" font-size="11" text-anchor="end" font-weight="normal" fill="#111" >7</text>
<text x="340.50" y="563.90" font-size="12.3" text-anchor="middle" font-weight="normal" fill="#111" transform="rotate(-90 340.50 563.90)" >TNF, ng/mL</text>
<text x="425.40" y="492.80" font-size="12" text-anchor="middle" font-weight="normal" fill="#111" >MDDC</text>
<rect x="368.70" y="517.50" width="16.10" height="124.00" fill="#000"/>
<line x1="376.40" y1="516.60" x2="376.40" y2="517.50" stroke="#4a4a4a" stroke-width="1.0" />
<line x1="372.40" y1="516.60" x2="380.40" y2="516.60" stroke="#4a4a4a" stroke-width="1.0" />
<rect x="388.70" y="518.00" width="15.10" height="123.50" fill="#8e8e8e" stroke="#333" stroke-width="1"/>
<line x1="396.30" y1="515.40" x2="396.30" y2="517.50" stroke="#4a4a4a" stroke-width="1.0" />
<line x1="392.10" y1="515.40" x2="400.50" y2="515.40" stroke="#4a4a4a" stroke-width="1.0" />
<rect x="415.70" y="506.20" width="16.20" height="135.30" fill="#000"/>
<line x1="423.80" y1="503.40" x2="423.80" y2="506.20" stroke="#4a4a4a" stroke-width="1.0" />
<line x1="419.60" y1="503.40" x2="428.00" y2="503.40" stroke="#4a4a4a" stroke-width="1.0" />
<rect x="435.70" y="554.50" width="15.40" height="87.00" fill="#8e8e8e" stroke="#333" stroke-width="1"/>
<line x1="443.30" y1="550.00" x2="443.30" y2="554.00" stroke="#4a4a4a" stroke-width="1.0" />
<line x1="439.10" y1="550.00" x2="447.50" y2="550.00" stroke="#4a4a4a" stroke-width="1.0" />
<rect x="462.80" y="533.40" width="16.20" height="108.10" fill="#000"/>
<line x1="471.00" y1="532.80" x2="471.00" y2="533.40" stroke="#4a4a4a" stroke-width="1.0" />
<line x1="467.50" y1="532.80" x2="474.50" y2="532.80" stroke="#4a4a4a" stroke-width="1.0" />
<rect x="483.10" y="587.90" width="15.20" height="53.60" fill="#8e8e8e" stroke="#333" stroke-width="1"/>
<line x1="490.70" y1="585.80" x2="490.70" y2="587.40" stroke="#4a4a4a" stroke-width="1.0" />
<line x1="487.10" y1="585.80" x2="494.30" y2="585.80" stroke="#4a4a4a" stroke-width="1.0" />
<line x1="386.40" y1="641.50" x2="386.40" y2="645.30" stroke="#3c3c3c" stroke-width="1.1" />
<text x="383.60" y="657.00" font-size="11" text-anchor="middle" font-weight="normal" fill="#111" >4</text>
<line x1="433.50" y1="641.50" x2="433.50" y2="645.30" stroke="#3c3c3c" stroke-width="1.1" />
<text x="431.50" y="657.00" font-size="11" text-anchor="middle" font-weight="normal" fill="#111" >8</text>
<line x1="480.70" y1="641.50" x2="480.70" y2="645.30" stroke="#3c3c3c" stroke-width="1.1" />
<text x="478.40" y="657.00" font-size="11" text-anchor="middle" font-weight="normal" fill="#111" >24</text>
<text x="433.50" y="672.90" font-size="12" text-anchor="middle" font-weight="normal" fill="#111" >time after LPS, hours</text>
<rect x="460.5" y="496.5" width="21.5" height="7.8" fill="#000"/>
<rect x="461" y="514" width="20.5" height="7" fill="#8e8e8e" stroke="#333" stroke-width="1"/>
<text x="484.00" y="505.00" font-size="12" text-anchor="start" font-weight="normal" fill="#111" >siC</text>
<text x="484.00" y="521.60" font-size="12" text-anchor="start" font-weight="normal" fill="#111" >siIRF5</text>
</g>
</svg>
</body></html>
